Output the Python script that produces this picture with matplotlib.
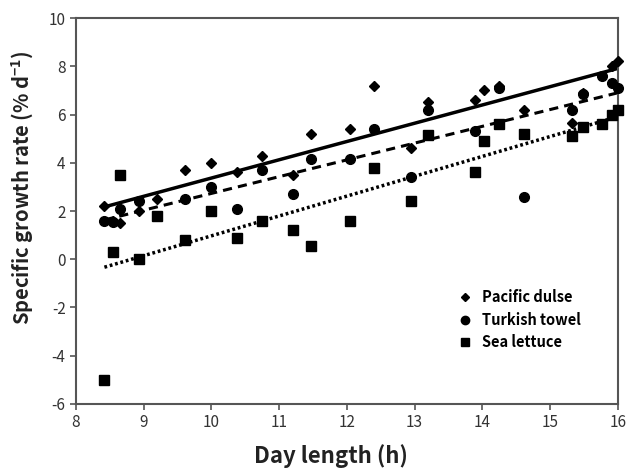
import matplotlib
matplotlib.use("Agg")
import matplotlib.pyplot as plt
from matplotlib.lines import Line2D

plt.rcParams['font.family'] = ['Noto Sans CJK KR', 'DejaVu Sans']
plt.rcParams['mathtext.fontset'] = 'custom'
plt.rcParams['mathtext.rm'] = 'Noto Sans CJK KR'
plt.rcParams['mathtext.it'] = 'Noto Sans CJK KR'
plt.rcParams['mathtext.bf'] = 'Noto Sans CJK KR:bold'
plt.rcParams['axes.unicode_minus'] = False

# ---- data ----
dulse_x = [8.42, 8.54, 8.65, 8.93, 9.19, 9.61, 9.99, 10.38, 10.74, 11.2, 11.47, 12.04,
           12.4, 12.95, 13.2, 13.89, 14.03, 14.24, 14.61, 15.32, 15.49, 15.91, 16.0]
dulse_y = [2.2, 1.6, 1.5, 2.0, 2.5, 3.7, 4.0, 3.6, 4.3, 3.5, 5.2, 5.4,
           7.2, 4.6, 6.5, 6.6, 7.0, 7.2, 6.2, 5.65, 6.9, 8.0, 8.2]

towel_x = [8.42, 8.54, 8.65, 8.93, 9.61, 9.99, 10.38, 10.74, 11.2, 11.47, 12.04,
           12.4, 12.95, 13.2, 13.89, 14.24, 14.61, 15.32, 15.49, 15.77, 15.91, 16.0]
towel_y = [1.6, 1.55, 2.1, 2.4, 2.5, 3.0, 2.1, 3.7, 2.7, 4.15, 4.15,
           5.4, 3.4, 6.2, 5.3, 7.1, 2.6, 6.2, 6.85, 7.6, 7.3, 7.1]

lettuce_x = [8.42, 8.54, 8.65, 8.93, 9.19, 9.61, 9.99, 10.38, 10.74, 11.2, 11.47, 12.04,
             12.4, 12.95, 13.2, 13.89, 14.03, 14.24, 14.61, 15.32, 15.49, 15.77, 15.91, 16.0]
lettuce_y = [-5.0, 0.3, 3.5, 0.0, 1.8, 0.8, 2.0, 0.9, 1.6, 1.2, 0.55, 1.6,
             3.8, 2.4, 5.15, 3.6, 4.9, 5.6, 5.2, 5.1, 5.5, 5.6, 6.0, 6.2]

trend_x = [8.42, 16.0]
dulse_trend = [2.17, 7.91]
towel_trend = [1.63, 6.90]
lettuce_trend = [-0.33, 5.91]

labels = ["Pacific dulse", "Turkish towel", "Sea lettuce"]
x_ticks = [8, 9, 10, 11, 12, 13, 14, 15, 16]
y_ticks = [-6, -4, -2, 0, 2, 4, 6, 8, 10]

# ---- figure ----
fig = plt.figure(figsize=(6.33, 4.69), dpi=100)
ax = fig.add_axes([0.120, 0.1386, 0.856, 0.823])

ax.plot(trend_x, dulse_trend, color='black', lw=2.5, solid_capstyle='butt', zorder=2)
ax.plot(trend_x, towel_trend, color='black', lw=2.2, linestyle=(0, (3, 2)), zorder=2)
ax.plot(trend_x, lettuce_trend, color='black', lw=2.5, linestyle=(0, (0.8, 0.8)), zorder=2)

ax.plot(dulse_x, dulse_y, 'D', color='black', ms=5.5, linestyle='none', zorder=3, clip_on=False)
ax.plot(towel_x, towel_y, 'o', color='black', ms=7.0, linestyle='none', zorder=3, clip_on=False)
ax.plot(lettuce_x, lettuce_y, 's', color='black', ms=6.5, linestyle='none', zorder=3, clip_on=False)

ax.set_xlim(8, 16)
ax.set_ylim(-6, 10)
ax.set_xticks(x_ticks)
ax.set_yticks(y_ticks)

for s in ax.spines.values():
    s.set_color('#555555')
    s.set_linewidth(1.5)
ax.tick_params(axis='both', direction='out', length=4, width=1.2, color='#555555',
               labelsize=11, labelcolor='#333333', top=False, right=False)

ax.set_xlabel("Day length (h)", fontsize=16, fontweight='bold', color='#222222')
ax.xaxis.set_label_coords(0.47, -0.105)
ax.set_ylabel(r"Specific growth rate (% d$^{\mathbf{-1}}$)", fontsize=14.5, fontweight='bold',
              color='#222222')
ax.yaxis.set_label_coords(-0.076, 0.56)

handles = [
    Line2D([], [], marker='D', color='black', ms=4.5, linestyle='none'),
    Line2D([], [], marker='o', color='black', ms=6, linestyle='none'),
    Line2D([], [], marker='s', color='black', ms=5.5, linestyle='none'),
]
leg = ax.legend(handles, labels, loc='upper left', bbox_to_anchor=(0.686, 0.328), frameon=False,
                handlelength=0.8, handletextpad=0.75, labelspacing=0.45, borderpad=0.3,
                prop={'family': ['Noto Sans CJK KR', 'DejaVu Sans'], 'weight': 'bold', 'size': 10.5})

fig.savefig("out.png", dpi=100)
